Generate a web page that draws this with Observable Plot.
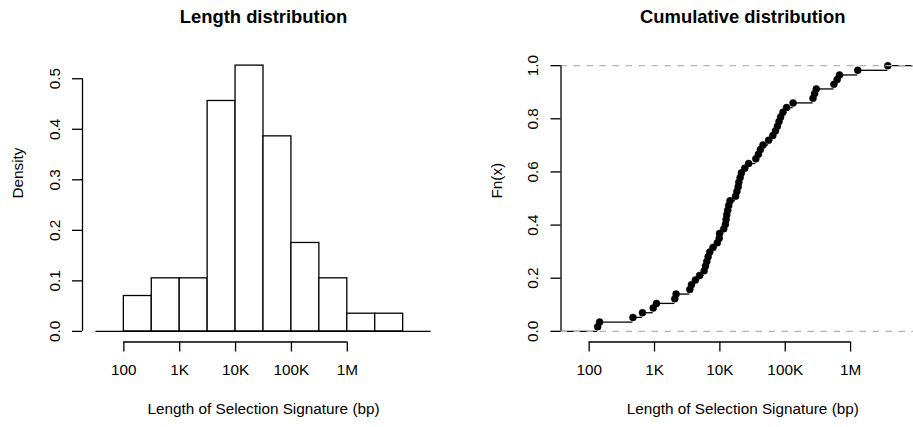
<!DOCTYPE html>
<html><head><meta charset="utf-8">
<script src="https://cdn.jsdelivr.net/npm/d3@7"></script>
<script src="https://cdn.jsdelivr.net/npm/@observablehq/plot@0.6"></script>
<style>
html,body{margin:0;padding:0;background:#fff;overflow:hidden;color:#000;}
#wrap{position:relative;width:913px;height:427px;overflow:hidden;}
#left,#right{position:absolute;top:0;}
#left{left:0px;width:456px;} #right{left:456px;width:468px;}
#wrap svg{max-width:none !important;}
</style></head><body><div id="wrap"><div id="left"></div><div id="right"></div></div>
<script>
// Histogram (log10 of length, bp)
const histBreaks = [2, 2.5, 3, 3.5, 4, 4.5, 5, 5.5, 6, 6.5, 7];
const histDensity = [0.070, 0.105, 0.105, 0.456, 0.526, 0.386, 0.175, 0.105, 0.035, 0.035];
// Individual signature lengths (log10 bp), read from the ECDF
const logLength = [2.13, 2.16, 2.67, 2.815, 2.98, 3.03, 3.31, 3.33, 3.54, 3.565,
  3.625, 3.69, 3.76, 3.78, 3.80, 3.82, 3.845, 3.895, 3.96, 3.99,
  3.995, 4.06, 4.085, 4.095, 4.105, 4.12, 4.135, 4.155, 4.24, 4.26,
  4.28, 4.29, 4.31, 4.33, 4.38, 4.44, 4.55, 4.59, 4.62, 4.66,
  4.745, 4.81, 4.85, 4.88, 4.905, 4.93, 4.965, 5.02, 5.12, 5.425,
  5.45, 5.475, 5.745, 5.795, 5.83, 6.11, 6.57];
const xTicks = [2, 3, 4, 5, 6];
const xTickLabels = ["100", "1K", "10K", "100K", "1M"];
const histYTicks = [0, 0.1, 0.2, 0.3, 0.4, 0.5];
const ecdfYTicks = [0, 0.2, 0.4, 0.6, 0.8, 1];
const histBaseline = [1.5, 7.5];
const histXDomain = [1.26, 7.74];
const histYDomain = [-0.021, 0.547];
const ecdfXDomain = [1.569, 7.131];
const ecdfYDomain = [-0.04, 1.04];

const font = "'Liberation Sans', Arial, Helvetica, sans-serif";
const lw = 1.3;
const bins = histDensity.map((d, i) => ({x1: histBreaks[i], x2: histBreaks[i + 1], density: d}));
const n = logLength.length;
const ecdf = logLength.map((x, i) => ({x, F: (i + 1) / n}));
const steps = [{x1: ecdfXDomain[0], x2: logLength[0], y: 0}]
  .concat(ecdf.map((d, i) => ({x1: d.x, x2: i < n - 1 ? logLength[i + 1] : ecdfXDomain[1], y: d.F})));
const fmtX = d => xTickLabels[xTicks.indexOf(d)];
const fmtY = d => d.toFixed(1);

const common = {
  height: 427, marginTop: 54.5, marginBottom: 85.5,
  style: {fontFamily: font, fontSize: "15.3px", color: "black", background: "white"}
};
const axes = (yTicks) => [
  Plot.axisX({ticks: xTicks, tickFormat: fmtX, tickSize: 10, tickPadding: 12.5, label: null, strokeWidth: lw}),
  Plot.axisY({ticks: yTicks, tickFormat: fmtY, tickSize: 10, tickPadding: 13, tickRotate: -90, label: null, strokeWidth: lw})
];

const left = Plot.plot({
  ...common, width: 456, marginLeft: 82, marginRight: 12,
  x: {type: "linear", domain: histXDomain},
  y: {domain: histYDomain},
  marks: [
    Plot.ruleY([0], {x1: histBaseline[0], x2: histBaseline[1], stroke: "black", strokeWidth: lw}),
    Plot.rectY(bins, {x1: "x1", x2: "x2", y: "density", fill: "white", stroke: "black", strokeWidth: lw}),
    Plot.ruleX([histXDomain[0]], {y1: histYTicks[0], y2: histYTicks[histYTicks.length - 1], stroke: "black", strokeWidth: lw}),
    Plot.ruleY([histYDomain[0]], {x1: xTicks[0], x2: xTicks[xTicks.length - 1], stroke: "black", strokeWidth: lw}),
    ...axes(histYTicks),
    Plot.text(["Length of Selection Signature (bp)"], {frameAnchor: "bottom", dy: 67, lineAnchor: "middle"}),
    Plot.text(["Density"], {frameAnchor: "left", dx: -64.5, rotate: -90, lineAnchor: "middle"}),
    Plot.text(["Length distribution"], {frameAnchor: "top", dy: -37.5, lineAnchor: "middle", fontWeight: "bold", fontSize: 18.4})
  ]
});

const right = Plot.plot({
  ...common, width: 468, marginLeft: 104.5, marginRight: 0,
  x: {type: "linear", domain: ecdfXDomain},
  y: {domain: ecdfYDomain},
  marks: [
    Plot.ruleY(steps, {x1: "x1", x2: "x2", y: "y", stroke: "black", strokeWidth: lw}),
    Plot.dot(ecdf, {x: "x", y: "F", r: 3.5, fill: "black", stroke: "black", strokeWidth: 0.5}),
    Plot.ruleY([0, 1], {stroke: "#b3b3b3", strokeWidth: lw, strokeDasharray: "6.5,6.5"}),
    Plot.ruleX([ecdfXDomain[0]], {y1: ecdfYTicks[0], y2: ecdfYTicks[ecdfYTicks.length - 1], stroke: "black", strokeWidth: lw}),
    Plot.ruleY([ecdfYDomain[0]], {x1: xTicks[0], x2: xTicks[xTicks.length - 1], stroke: "black", strokeWidth: lw}),
    ...axes(ecdfYTicks),
    Plot.text(["Length of Selection Signature (bp)"], {frameAnchor: "bottom", dy: 67, lineAnchor: "middle"}),
    Plot.text(["Fn(x)"], {frameAnchor: "left", dx: -64, rotate: -90, lineAnchor: "middle"}),
    Plot.text(["Cumulative distribution"], {frameAnchor: "top", dy: -37.5, lineAnchor: "middle", fontWeight: "bold", fontSize: 18.4})
  ]
});

document.getElementById("left").appendChild(left);
document.getElementById("right").appendChild(right);
</script></body></html>
